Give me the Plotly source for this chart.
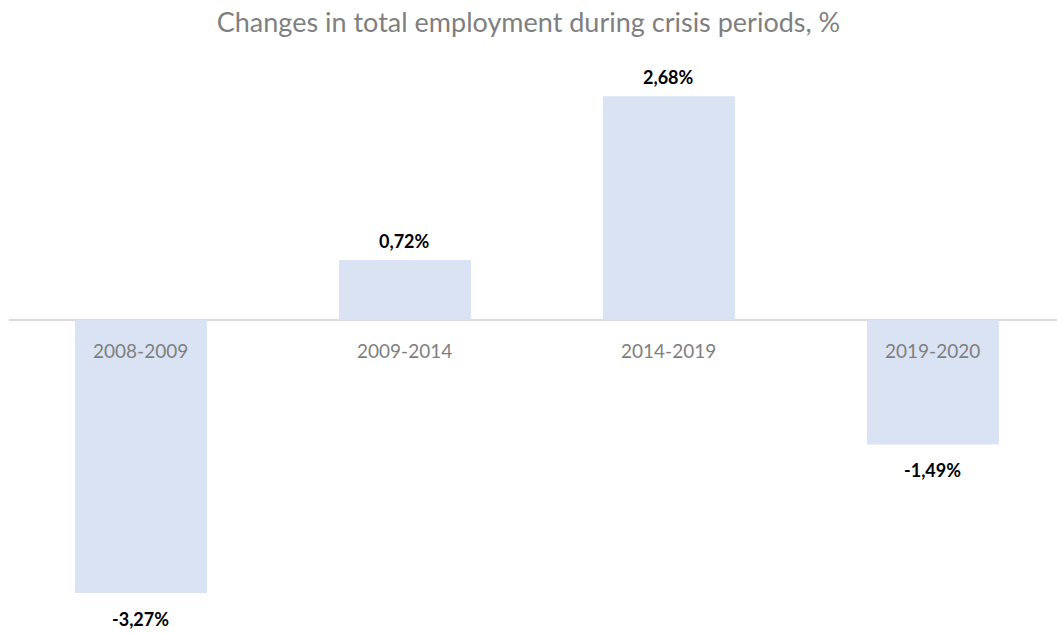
import plotly.graph_objects as go

categories = ["2008-2009", "2009-2014", "2014-2019", "2019-2020"]
values = [-3.27, 0.72, 2.68, -1.49]
title_text = "Changes in total employment during crisis periods, %"

FONT = "Lato, Open Sans, sans-serif"

fig = go.Figure()
fig.add_trace(go.Bar(
    x=categories, y=values,
    marker=dict(color="#DAE3F3", line=dict(width=0)),
    width=0.5,
    hoverinfo="skip",
))

annotations = []
for c, v in zip(categories, values):
    label = f"{v:.2f}%".replace(".", ",")
    annotations.append(dict(
        x=c, y=v, xref="x", yref="y", text=f"<b>{label}</b>", showarrow=False,
        yanchor="bottom" if v >= 0 else "top", yshift=6 if v >= 0 else -13,
        font=dict(family=FONT, size=18, color="#000000"),
    ))
    annotations.append(dict(
        x=c, y=0, xref="x", yref="y", text=c, showarrow=False,
        yanchor="top", yshift=-17,
        font=dict(family=FONT, size=19, color="#7f7f7f"),
    ))

fig.update_layout(
    width=1057, height=635,
    paper_bgcolor="white", plot_bgcolor="white",
    margin=dict(l=9, r=0, t=60, b=0),
    showlegend=False,
    title=dict(text=title_text, x=0.5, xanchor="center", y=0.965, yanchor="middle",
               font=dict(family=FONT, size=27, color="#7f7f7f")),
    xaxis=dict(range=[-0.5, 3.47], showticklabels=False, showgrid=False,
               zeroline=False, showline=False, fixedrange=True),
    yaxis=dict(range=[-3.772, 3.114], showticklabels=False, showgrid=False,
               zeroline=True, zerolinecolor="#d9d9d9", zerolinewidth=1.5,
               showline=False, fixedrange=True),
    annotations=annotations,
)

fig.write_html("out.html")
